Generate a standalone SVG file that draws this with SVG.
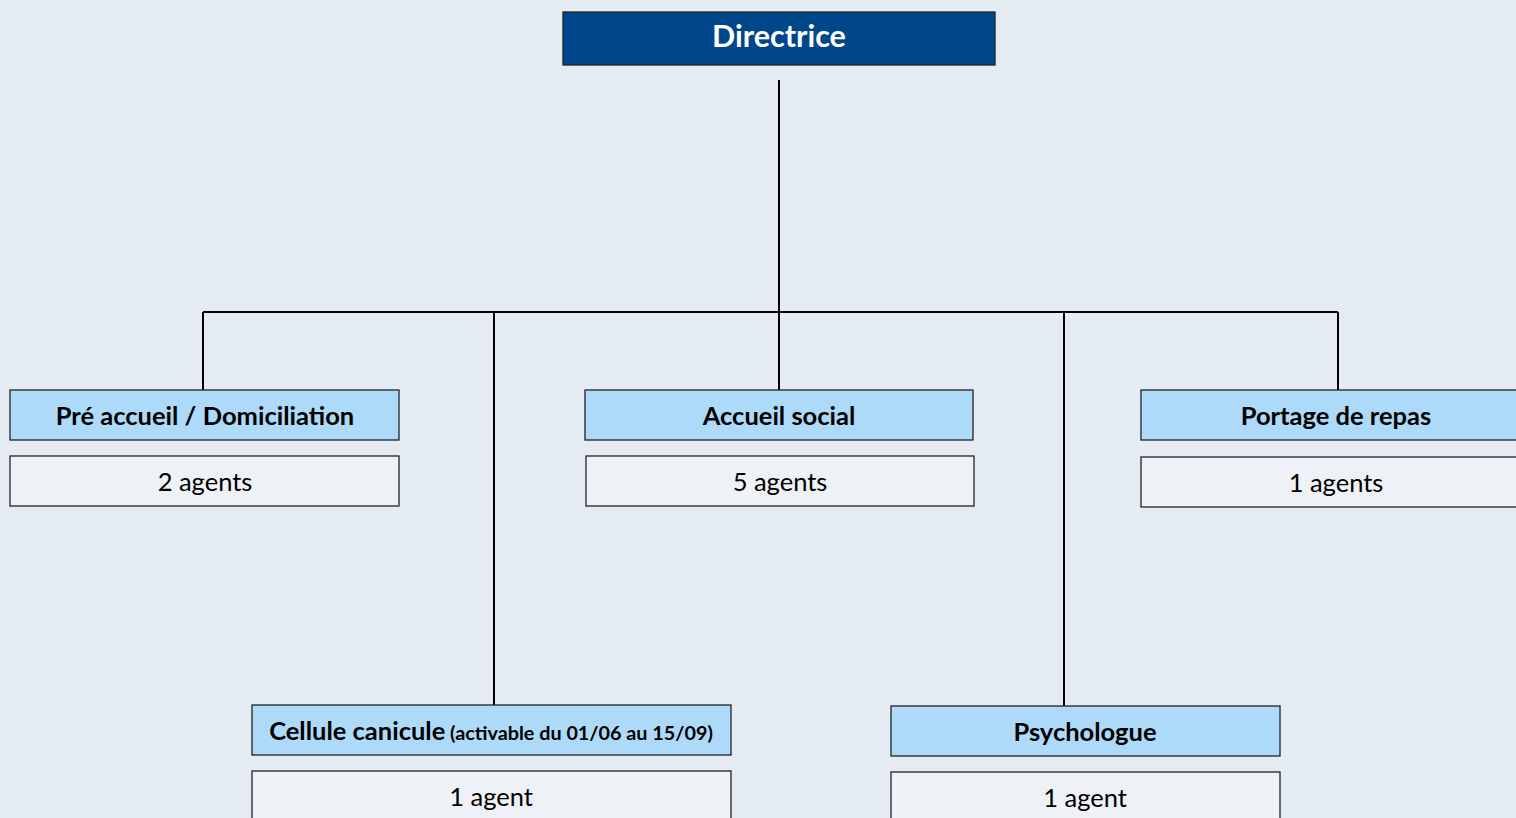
<svg xmlns="http://www.w3.org/2000/svg" width="1516" height="818" viewBox="0 0 1516 818">
<style>
.hd{fill:#ADDAF8;stroke:#222;stroke-width:1.3}
.ag{fill:#EEF1F5;stroke:#222;stroke-width:1.3}
.t{font-family:Lato,"Open Sans",sans-serif;text-anchor:middle;fill:#000}
.b{font-weight:bold;font-size:25.5px}
.r{font-size:25.5px}
.s{font-weight:bold;font-size:19.8px}
.con{stroke:#000;stroke-width:2;fill:none}
</style>
<rect width="1516" height="818" fill="#E4EBF2"/>
<g id="connectors">
<path class="con" d="M779 80V312M203 312H1338M203 312V390M494 312V705M779 312V390M1064 312V706M1338 312V390"/>
</g>
<g id="directrice">
<rect x="563" y="12" width="432" height="53" fill="#00468B" stroke="#222" stroke-width="1.3"/>
<text class="t" x="779" y="47" font-size="30.5" font-weight="bold" style="fill:#fff">Directrice</text>
</g>
<g id="pre-accueil">
<rect class="hd" x="10" y="390" width="389" height="50"/>
<text class="t b" x="205" y="425">Pré accueil / Domiciliation</text>
<rect class="ag" x="10" y="456" width="389" height="50"/>
<text class="t r" x="205" y="491">2 agents</text>
</g>
<g id="accueil-social">
<rect class="hd" x="585" y="390" width="388" height="50"/>
<text class="t b" x="779" y="425">Accueil social</text>
<rect class="ag" x="586" y="456" width="388" height="50"/>
<text class="t r" x="780" y="491">5 agents</text>
</g>
<g id="portage">
<rect class="hd" x="1141" y="390" width="389" height="50"/>
<text class="t b" x="1336" y="425">Portage de repas</text>
<rect class="ag" x="1141" y="457" width="389" height="50"/>
<text class="t r" x="1336" y="492">1 agents</text>
</g>
<g id="cellule">
<rect class="hd" x="252" y="705" width="479" height="50"/>
<text class="t" x="491" y="740"><tspan class="b">Cellule canicule</tspan><tspan class="s"> (activable du 01/06 au 15/09)</tspan></text>
<rect class="ag" x="252" y="771" width="479" height="60"/>
<text class="t r" x="491" y="806">1 agent</text>
</g>
<g id="psychologue">
<rect class="hd" x="891" y="706" width="389" height="50"/>
<text class="t b" x="1085" y="741">Psychologue</text>
<rect class="ag" x="891" y="772" width="389" height="60"/>
<text class="t r" x="1085" y="807">1 agent</text>
</g>
</svg>
